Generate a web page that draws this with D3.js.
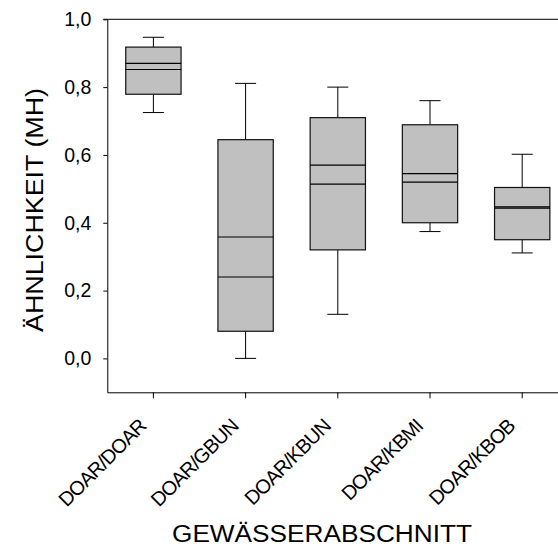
<!DOCTYPE html>
<html>
<head>
<meta charset="utf-8">
<script src="https://cdn.jsdelivr.net/npm/d3@7"></script>
<style>
  html, body { margin: 0; padding: 0; background: #fff; }
  svg { display: block; font-family: Arial, "Liberation Sans", sans-serif; }
</style>
</head>
<body>
<svg id="chart" width="558" height="547"></svg>
<script>
// ---- data ----
const categories = ["DOAR/DOAR", "DOAR/GBUN", "DOAR/KBUN", "DOAR/KBMI", "DOAR/KBOB"];
const whiskerHigh = [0.947, 0.811, 0.800, 0.760, 0.602];
const q3Values    = [0.918, 0.645, 0.710, 0.689, 0.504];
const medians     = [0.870, 0.358, 0.570, 0.545, 0.447];
const means       = [0.852, 0.240, 0.514, 0.520, 0.443];
const q1Values    = [0.779, 0.080, 0.320, 0.400, 0.350];
const whiskerLow  = [0.725, 0.000, 0.130, 0.374, 0.311];
const yTicks = [0, 0.2, 0.4, 0.6, 0.8, 1.0];
const yTickLabels = ["0,0", "0,2", "0,4", "0,6", "0,8", "1,0"];
const xTitle = "GEWÄSSERABSCHNITT";
const yTitle = "ÄHNLICHKEIT (MH)";

const rows = categories.map((c, i) => ({
  cat: c, hi: whiskerHigh[i], q3: q3Values[i], med: medians[i],
  mean: means[i], q1: q1Values[i], lo: whiskerLow[i]
}));

// ---- layout ----
const pLeft = 107.3, pTop = 19.3, pBottom = 392.3, pRight = 568.3;
const svg = d3.select("#chart");

const x = d3.scaleBand().domain(categories).range([pLeft, pRight])
  .paddingInner(0.4).paddingOuter(0.2);
const y = d3.scaleLinear().domain([-0.1, 1.0]).range([pBottom, pTop]);

const bw = x.bandwidth();
const capW = bw * 0.38;

// boxes
const g = svg.append("g");
rows.forEach(d => {
  const cx = x(d.cat) + bw / 2;
  g.append("line").attr("x1", cx).attr("x2", cx).attr("y1", y(d.q3)).attr("y2", y(d.hi))
    .attr("stroke", "#000").attr("stroke-width", 1);
  g.append("line").attr("x1", cx).attr("x2", cx).attr("y1", y(d.q1)).attr("y2", y(d.lo))
    .attr("stroke", "#000").attr("stroke-width", 1);
  g.append("line").attr("x1", cx - capW / 2).attr("x2", cx + capW / 2).attr("y1", y(d.hi)).attr("y2", y(d.hi))
    .attr("stroke", "#000").attr("stroke-width", 1);
  g.append("line").attr("x1", cx - capW / 2).attr("x2", cx + capW / 2).attr("y1", y(d.lo)).attr("y2", y(d.lo))
    .attr("stroke", "#000").attr("stroke-width", 1);
  g.append("rect").attr("x", x(d.cat)).attr("y", y(d.q3))
    .attr("width", bw).attr("height", y(d.q1) - y(d.q3))
    .attr("fill", "#c0c0c0").attr("stroke", "#111").attr("stroke-width", 1.2);
  [d.med, d.mean].forEach(v => {
    g.append("line").attr("x1", x(d.cat)).attr("x2", x(d.cat) + bw)
      .attr("y1", y(v)).attr("y2", y(v)).attr("stroke", "#000").attr("stroke-width", 1.2);
  });
});

// top border
svg.append("line").attr("x1", pLeft - 4).attr("x2", pRight).attr("y1", pTop).attr("y2", pTop)
  .attr("stroke", "#000").attr("stroke-width", 1);

// y axis
const yAxis = svg.append("g").attr("transform", `translate(${pLeft},0)`)
  .call(d3.axisLeft(y).tickValues(yTicks)
    .tickFormat((d, i) => yTickLabels[i])
    .tickSize(4).tickSizeOuter(0).tickPadding(12));
yAxis.select(".domain").attr("stroke", "#000");
yAxis.selectAll(".tick line").attr("stroke", "#000");
yAxis.selectAll("text").attr("font-size", 19.5).attr("fill", "#000")
  .attr("font-family", "Arial, 'Liberation Sans', sans-serif");

// x axis
const xAxis = svg.append("g").attr("transform", `translate(0,${pBottom})`)
  .call(d3.axisBottom(x).tickSize(6).tickSizeOuter(0));
xAxis.select(".domain").attr("stroke", "#000");
xAxis.selectAll(".tick line").attr("stroke", "#000");
xAxis.selectAll("text")
  .attr("font-size", 20).attr("fill", "#000")
  .attr("font-family", "Arial, 'Liberation Sans', sans-serif")
  .attr("letter-spacing", "-0.8px")
  .attr("text-anchor", "end")
  .attr("x", 0).attr("y", 0).attr("dy", 0)
  .attr("transform", "translate(-6,35) rotate(-45)");

// titles
svg.append("text").attr("x", 322).attr("y", 542)
  .attr("text-anchor", "middle").attr("font-size", 23).attr("fill", "#000")
  .attr("textLength", 300).attr("lengthAdjust", "spacingAndGlyphs")
  .text(xTitle);

svg.append("text").attr("transform", "translate(43,210) rotate(-90)")
  .attr("text-anchor", "middle").attr("font-size", 23).attr("fill", "#000")
  .attr("textLength", 244).attr("lengthAdjust", "spacingAndGlyphs")
  .text(yTitle);
</script>
</body>
</html>
